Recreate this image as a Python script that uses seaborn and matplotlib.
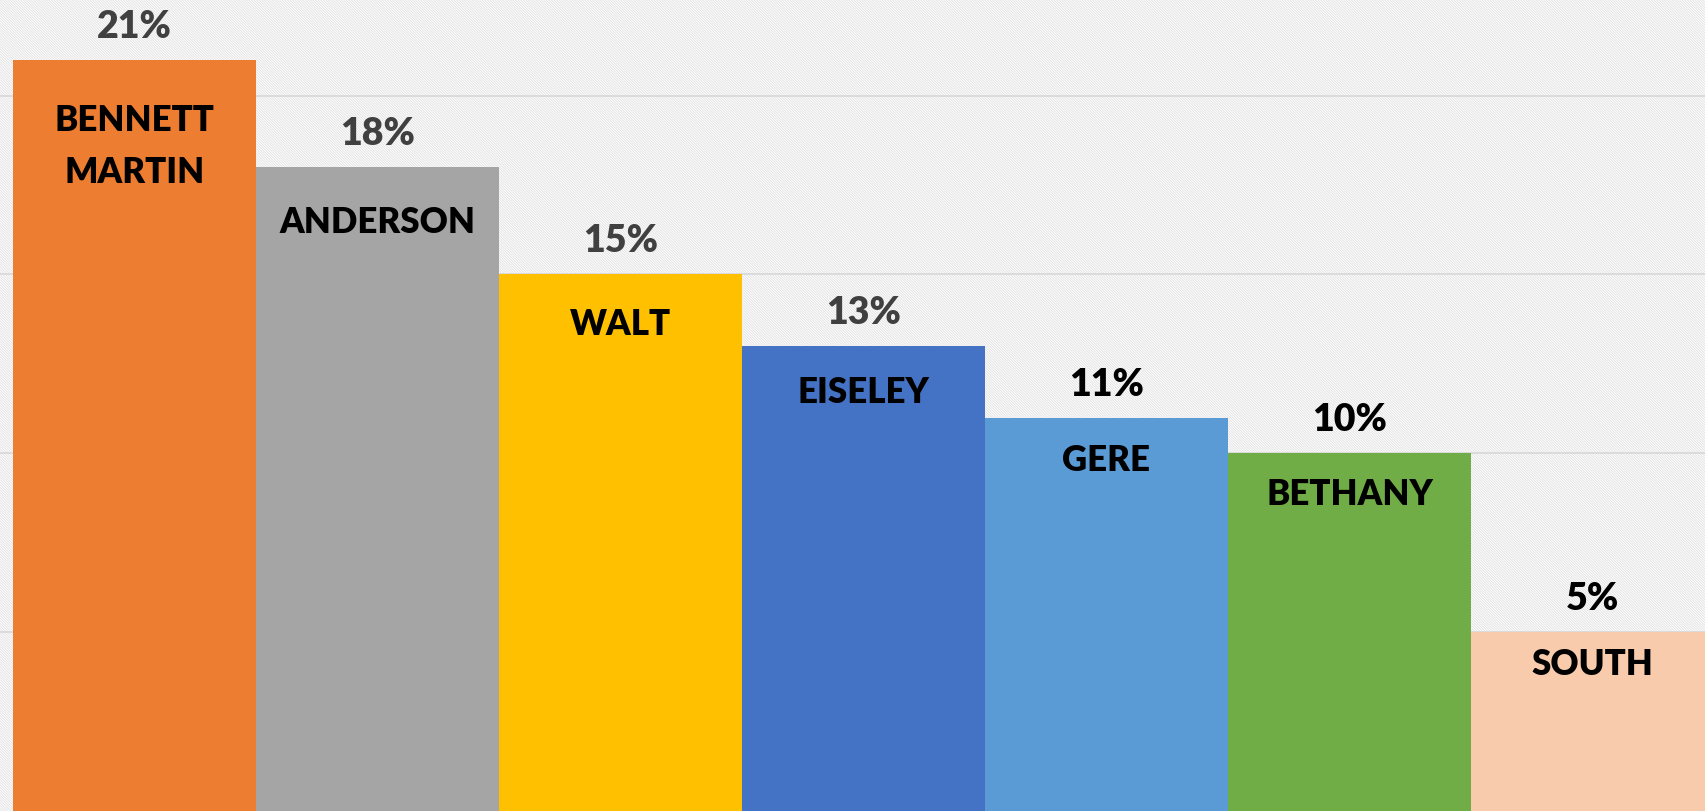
import matplotlib
matplotlib.use("Agg")
import matplotlib.pyplot as plt
import seaborn as sns
import pandas as pd
from matplotlib.patches import Rectangle

names = ["BENNETT\nMARTIN", "ANDERSON", "WALT", "EISELEY", "GERE", "BETHANY", "SOUTH"]
values = [21, 18, 15, 13, 11, 10, 5]
value_labels = ["21%", "18%", "15%", "13%", "11%", "10%", "5%"]
colors = ["#ED7D31", "#A5A5A5", "#FFC000", "#4472C4", "#5B9BD5", "#70AD47", "#F8CBAD"]
label_colors = ["#404040", "#404040", "#404040", "#404040", "#000000", "#000000", "#000000"]
grid_ticks = [5, 10, 15, 20]

sns.set_theme(style="white")
plt.rcParams["font.family"] = ["Lato", "DejaVu Sans"]
plt.rcParams["hatch.linewidth"] = 0.6

df = pd.DataFrame({"name": names, "value": values})

fig = plt.figure(figsize=(17.06, 8.12), dpi=100)
ax = fig.add_axes([0, 0, 1, 1])

# hatched background
bg = Rectangle((0, 0), 1, 1, transform=ax.transAxes, facecolor="white",
               edgecolor="#E0E0E0", linewidth=0, hatch="\\" * 13, zorder=0)
ax.add_patch(bg)
ax.set_facecolor("white")

for g in grid_ticks:
    ax.axhline(g, color="#D9D9D9", linewidth=1.3, zorder=1)

sns.barplot(data=df, x="name", y="value", hue="name", palette=colors,
            saturation=1, width=1.0, linewidth=0, legend=False, ax=ax, zorder=2)

ax.set_xlim(-0.553, 6.467)
ax.set_ylim(0, 22.7)
ax.axis("off")

for i, (v, lab, lc, nm) in enumerate(zip(values, value_labels, label_colors, names)):
    ax.text(i, v + 0.95, lab, ha="center", va="center", fontsize=27,
            fontweight="heavy", color=lc, zorder=5)
    first = v - (0.62 + 0.05 * v)
    for k, line in enumerate(nm.split("\n")):
        ax.text(i, first - k * 1.45, line, ha="center", va="center",
                fontsize=25, fontweight="heavy", color="black", zorder=5)

fig.savefig("out.png", dpi=100)
